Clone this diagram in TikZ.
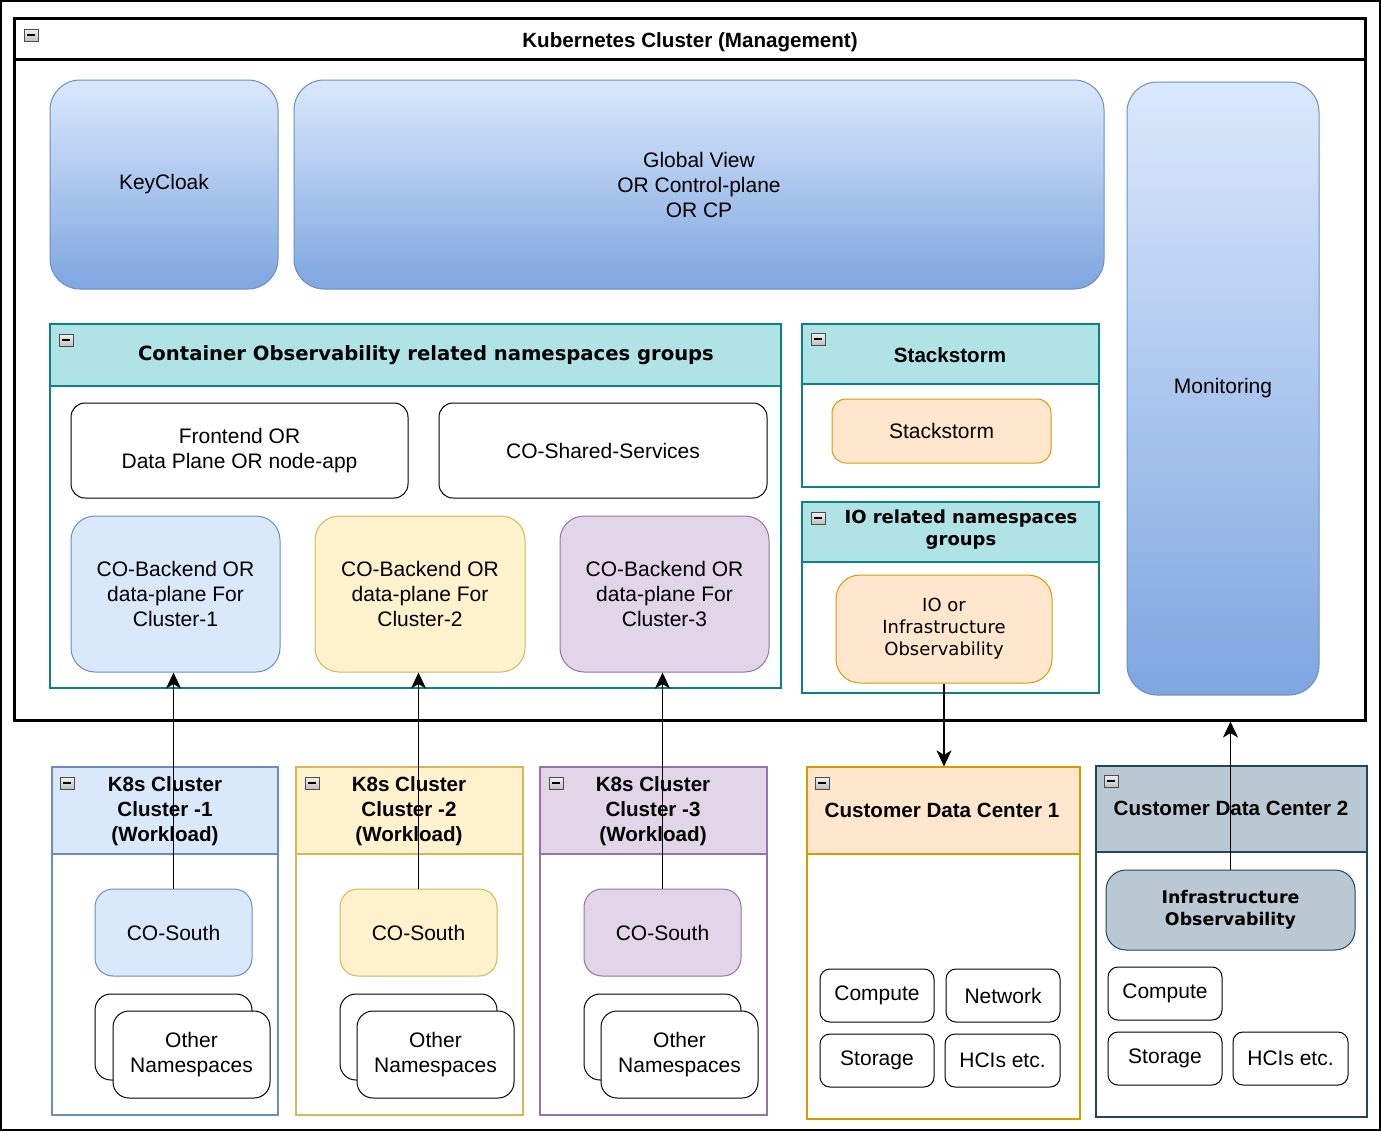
\documentclass[tikz,border=0pt]{standalone}
\usepackage{fontspec}
\setmainfont{Liberation Sans}
\newfontfamily\verdana{DejaVu Sans}
\usetikzlibrary{arrows.meta}

\definecolor{blueFill}{HTML}{DAE8FC}
\definecolor{blueLine}{HTML}{6C8EBF}
\definecolor{blueDark}{HTML}{7EA6E0}
\definecolor{yellowFill}{HTML}{FFF2CC}
\definecolor{yellowLine}{HTML}{D6B656}
\definecolor{purpleFill}{HTML}{E1D5E7}
\definecolor{purpleLine}{HTML}{9673A6}
\definecolor{tealFill}{HTML}{B0E3E6}
\definecolor{tealLine}{HTML}{0E8088}
\definecolor{orangeFill}{HTML}{FFE6CC}
\definecolor{orangeLine}{HTML}{D79B00}
\definecolor{slateFill}{HTML}{BAC8D3}
\definecolor{slateLine}{HTML}{23445D}

\newcommand\txtnorm{\fontsize{10.5}{12.5}\selectfont}
\newcommand\txthead{\bfseries\fontsize{10.3}{12.5}\selectfont}
\newcommand\txtvhead{\verdana\bfseries\fontsize{9}{11}\selectfont}
\newcommand\txtvbody{\verdana\fontsize{9}{11}\selectfont}

\tikzset{
  spanbox/.style args={#1/#2/#3/#4}{at={({(#1+#3)/2},{(#2+#4)/2})},
    minimum width={(#3-#1)*0.5pt}, minimum height={(#4-#2)*0.5pt}},
  box/.style={draw, line width=0.5pt, inner sep=0pt, align=center, font=\txtnorm},
  whitebox/.style={box, fill=white, rounded corners=#1},
  gradbox/.style={box, draw=blueLine, top color=blueFill, bottom color=blueDark, rounded corners=15pt},
  lane/.style={draw=#1, line width=0.6pt, fill=white, inner sep=0pt},
  lanehead/.style={draw=#1, line width=0.6pt, inner sep=0pt},
  lanetitle/.style={align=center, font=\txthead},
  vtitle/.style={align=center, font=\txtvhead},
  arr/.style={line width=0.7pt, -{Stealth[length=8pt,width=7.5pt,inset=2.2pt]}},
  minus/.pic={
    \draw[gray!60!black, line width=0.4pt, top color=gray!10, bottom color=gray!50] (-7,-6) rectangle (7,6);
    \draw[line width=1.1pt] (-4,0) -- (4,0);
  }
}

\begin{document}
\begin{tikzpicture}[x=0.5pt, y=-0.5pt]
	\useasboundingbox (0,0) rectangle (1381,1131);
	\draw[line width=0.8pt] (1,1) rectangle (1380,1130);
	%
	%management cluster
	\node[box, line width=1.5pt, spanbox=14/18/1365/720] (kube) {};
	\node[box, line width=1.5pt, spanbox=14/18/1365/59] (kubeh) {};
	\node[lanetitle] (kubeT) at (690,42) {Kubernetes Cluster (Management)};
	\pic at (31,35) {minus};
	%
	\node[gradbox, spanbox=50/80/278/289] (keycloak) {KeyCloak};
	\node[gradbox, spanbox=294/80/1104/289] (global) {Global View\\OR Control-plane\\OR CP};
	\node[gradbox, spanbox=1127/82/1319/695] (monitor) {Monitoring};
	%
	%container observability
	\node[lane=tealLine, spanbox=50/324/781/688] (co) {};
	\node[lanehead=tealLine, fill=tealFill, spanbox=50/324/781/386] (coh) {};
	\node[vtitle, font=\verdana\bfseries\fontsize{9.8}{11}\selectfont] (coT) at (426,355) {Container Observability related namespaces groups};
	\pic at (66,340) {minus};
	\node[whitebox=7pt, spanbox=71/403/408/498] (front) {Frontend OR\\Data Plane OR node-app};
	\node[whitebox=7pt, spanbox=439/403/767/498] (shared) {CO-Shared-Services};
	\node[box, rounded corners=12pt, draw=blueLine, fill=blueFill, spanbox=71/516/280/672] (back1) {CO-Backend OR\\data-plane For\\Cluster-1};
	\node[box, rounded corners=12pt, draw=yellowLine, fill=yellowFill, spanbox=315/516/525/672] (back2) {CO-Backend OR\\data-plane For\\Cluster-2};
	\node[box, rounded corners=12pt, draw=purpleLine, fill=purpleFill, spanbox=560/516/769/672] (back3) {CO-Backend OR\\data-plane For\\Cluster-3};
	%
	%stackstorm
	\node[lane=tealLine, spanbox=802/324/1099/487] (st) {};
	\node[lanehead=tealLine, fill=tealFill, spanbox=802/324/1099/384] (sth) {};
	\node[lanetitle] (stT) at (950,355) {Stackstorm};
	\pic at (818,339) {minus};
	\node[box, rounded corners=7pt, draw=orangeLine, fill=orangeFill, spanbox=832/399/1051/463] (storm) {Stackstorm};
	%
	%infrastructure observability
	\node[lane=tealLine, spanbox=802/502/1099/693] (io) {};
	\node[lanehead=tealLine, fill=tealFill, spanbox=802/502/1099/562] (ioh) {};
	\node[vtitle] (ioT) at (961,530) {IO related namespaces\\groups};
	\pic at (818,518) {minus};
	\node[box, rounded corners=12pt, draw=orangeLine, fill=orangeFill, font=\txtvbody, spanbox=836/575/1052/683] (ioobs) {IO or\\Infrastructure\\Observability};
	%
	%workload clusters
	\node[lane=blueLine, spanbox=52/767/278/1115] (w1) {};
	\node[lanehead=blueLine, fill=blueFill, spanbox=52/767/278/854] (w1h) {};
	\node[lanetitle] (w1T) at (165,811) {K8s Cluster\\Cluster -1\\(Workload)};
	\pic at (67,783) {minus};
	\node[box, rounded corners=9pt, draw=blueLine, fill=blueFill, spanbox=95/889/252/976] (south1) {CO-South};
	\node[whitebox=8pt, spanbox=95/994/252/1080] (other1b) {};
	\node[whitebox=8pt, spanbox=113/1011/270/1098] (other1) {Other\\Namespaces};
	%
	\node[lane=yellowLine, spanbox=296/767/523/1115] (w2) {};
	\node[lanehead=yellowLine, fill=yellowFill, spanbox=296/767/523/854] (w2h) {};
	\node[lanetitle] (w2T) at (409,811) {K8s Cluster\\Cluster -2\\(Workload)};
	\pic at (312,783) {minus};
	\node[box, rounded corners=9pt, draw=yellowLine, fill=yellowFill, spanbox=340/889/497/976] (south2) {CO-South};
	\node[whitebox=8pt, spanbox=340/994/497/1080] (other2b) {};
	\node[whitebox=8pt, spanbox=357/1011/514/1098] (other2) {Other\\Namespaces};
	%
	\node[lane=purpleLine, spanbox=540/767/767/1115] (w3) {};
	\node[lanehead=purpleLine, fill=purpleFill, spanbox=540/767/767/854] (w3h) {};
	\node[lanetitle] (w3T) at (653,811) {K8s Cluster\\Cluster -3\\(Workload)};
	\pic at (556,783) {minus};
	\node[box, rounded corners=9pt, draw=purpleLine, fill=purpleFill, spanbox=584/889/741/976] (south3) {CO-South};
	\node[whitebox=8pt, spanbox=584/994/741/1080] (other3b) {};
	\node[whitebox=8pt, spanbox=601/1011/758/1098] (other3) {Other\\Namespaces};
	%
	%data centers
	\node[lane=orangeLine, spanbox=807/767/1080/1119] (dc1) {};
	\node[lanehead=orangeLine, fill=orangeFill, spanbox=807/767/1080/854] (dc1h) {};
	\node[lanetitle] (dc1T) at (942,810) {Customer Data Center 1};
	\pic at (822,783) {minus};
	\node[whitebox=5pt, spanbox=820/969/934/1022] (compute1) {Compute};
	\node[whitebox=5pt, spanbox=946/969/1060/1022] (network1) {Network};
	\node[whitebox=5pt, spanbox=820/1034/934/1087] (storage1) {Storage};
	\node[whitebox=5pt, spanbox=945/1034/1060/1087] (hci1) {HCIs etc.};
	%
	\node[lane=slateLine, spanbox=1096/766/1367/1117] (dc2) {};
	\node[lanehead=slateLine, fill=slateFill, spanbox=1096/766/1367/852] (dc2h) {};
	\node[lanetitle] (dc2T) at (1231,808) {Customer Data Center 2};
	\pic at (1111,781) {minus};
	\node[box, rounded corners=10pt, draw=slateLine, fill=slateFill, font=\verdana\bfseries\fontsize{8.7}{11}\selectfont, spanbox=1106/870/1355/950] (infra) {Infrastructure\\Observability};
	\node[whitebox=5pt, spanbox=1108/967/1222/1020] (compute2) {Compute};
	\node[whitebox=5pt, spanbox=1108/1032/1222/1085] (storage2) {Storage};
	\node[whitebox=5pt, spanbox=1233/1032/1348/1085] (hci2) {HCIs etc.};
	%
	%connectors
	\draw[arr] (south1.north) -- (south1.north |- back1.south);
	\draw[arr] (south2.north) -- (south2.north |- back2.south);
	\draw[arr] (south3.north) -- (south3.north |- back3.south);
	\draw[arr] (ioobs.south) -- (ioobs.south |- dc1.north);
	\draw[arr] (infra.north) -- (infra.north |- kube.south);
\end{tikzpicture}
\end{document}
